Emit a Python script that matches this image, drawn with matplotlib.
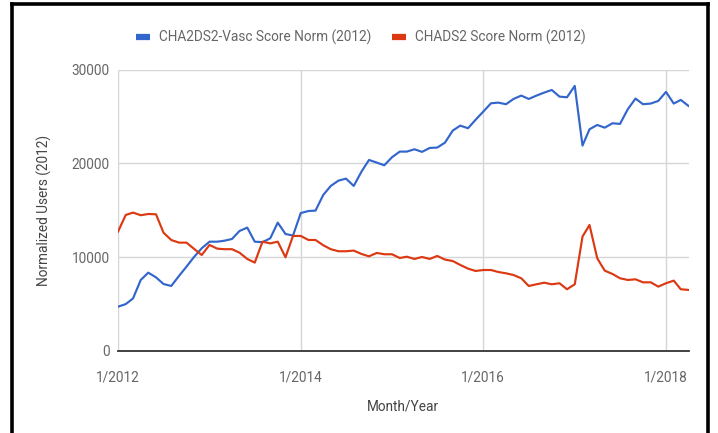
import matplotlib
matplotlib.use("Agg")
import matplotlib.pyplot as plt
import pandas as pd
from matplotlib.lines import Line2D

plt.rcParams['font.family'] = ['Roboto', 'DejaVu Sans']

months = pd.date_range('2012-01-01', periods=76, freq='MS')

cha2ds2_vasc = [4720, 5000, 5600, 7570, 8350, 7850, 7140, 6930, 8000, 8990, 10050, 10950,
                11650, 11650, 11750, 11940, 12790, 13150, 11650, 11600, 12010, 13680, 12470, 12300,
                14700, 14920, 14960, 16630, 17590, 18160, 18370, 17590, 19120, 20360, 20080, 19790,
                20650, 21250, 21250, 21500, 21220, 21640, 21680, 22210, 23490, 24020, 23740, 24630,
                25510, 26400, 26470, 26300, 26860, 27220, 26860, 27220, 27540, 27820, 27110, 27040,
                28250, 21890, 23630, 24090, 23800, 24270, 24200, 25760, 26900, 26300, 26370, 26650,
                27610, 26370, 26760, 26120]

chads2 = [12720, 14500, 14750, 14470, 14600, 14570, 12610, 11830, 11550, 11550, 10870, 10230,
          11300, 10910, 10850, 10850, 10480, 9810, 9420, 11650, 11470, 11650, 9990, 12260,
          12260, 11830, 11830, 11270, 10850, 10630, 10630, 10700, 10340, 10090, 10450, 10310,
          10310, 9910, 10050, 9810, 10020, 9810, 10130, 9740, 9590, 9170, 8780, 8530,
          8630, 8630, 8420, 8280, 8100, 7750, 6930, 7110, 7280, 7110, 7220, 6580,
          7110, 12190, 13430, 9880, 8560, 8210, 7750, 7570, 7640, 7320, 7320, 6860,
          7220, 7500, 6580, 6510]

series_names = ['CHA2DS2-Vasc Score Norm (2012)', 'CHADS2 Score Norm (2012)']
series_colors = ['#3366CC', '#DC3912']

x_tick_dates = ['2012-01-01', '2014-01-01', '2016-01-01', '2018-01-01']
x_tick_labels = ['1/2012', '1/2014', '1/2016', '1/2018']
y_ticks = [0, 10000, 20000, 30000]

W, H = 718, 433
FS = 9.8
fig = plt.figure(figsize=(W / 100, H / 100), dpi=100)
fig.patch.set_facecolor('white')

ax = fig.add_axes([118 / W, 1 - 351 / H, (688.5 - 118) / W, (351 - 69.5) / H])

lw = 1.55
ax.plot(months, cha2ds2_vasc, color=series_colors[0], lw=lw, solid_joinstyle='round', zorder=3)
ax.plot(months, chads2, color=series_colors[1], lw=lw, solid_joinstyle='round', zorder=3)

ax.set_xlim(months[0], months[-1])
ax.set_ylim(0, 30000)

ax.set_yticks(y_ticks)
ax.set_yticklabels([str(v) for v in y_ticks])
xt = pd.to_datetime(x_tick_dates)
ax.set_xticks(xt)
ax.set_xticklabels(x_tick_labels)

ax.grid(True, color='#d6d6d6', lw=1.0, zorder=0)
ax.set_axisbelow(True)
for s in ['top', 'right', 'left']:
    ax.spines[s].set_visible(False)
ax.spines['bottom'].set_color('#333333')
ax.spines['bottom'].set_linewidth(1.3)
ax.spines['bottom'].set_zorder(4)

ax.tick_params(axis='both', length=0, labelsize=FS, colors='#666666')
ax.tick_params(axis='x', pad=14)
ax.tick_params(axis='y', pad=6)

ax.set_xlabel('Month/Year', fontsize=FS, color='#444444', labelpad=11)
ax.set_ylabel('Normalized Users (2012)', fontsize=FS, color='#444444', labelpad=14)

handles = [Line2D([0], [0], color=c, lw=4.5, solid_capstyle='butt') for c in series_colors]
fig.legend(handles, series_names, loc='center', bbox_to_anchor=(361 / W, 1 - 37 / H),
           ncol=2, frameon=False, fontsize=FS, handlelength=1.0, handletextpad=0.7,
           columnspacing=1.5, labelcolor='#666666')

# outer black frame
frame_kw = dict(color='black', lw=2.6, transform=fig.transFigure, clip_on=False)
fig.add_artist(Line2D([12 / W, 12 / W], [0, 1 - 4 / H], **frame_kw))
fig.add_artist(Line2D([708 / W, 708 / W], [0, 1 - 4 / H], **frame_kw))
fig.add_artist(Line2D([12 / W, 708 / W], [1 - 4 / H, 1 - 4 / H], **frame_kw))

fig.savefig('out.png', dpi=100)
